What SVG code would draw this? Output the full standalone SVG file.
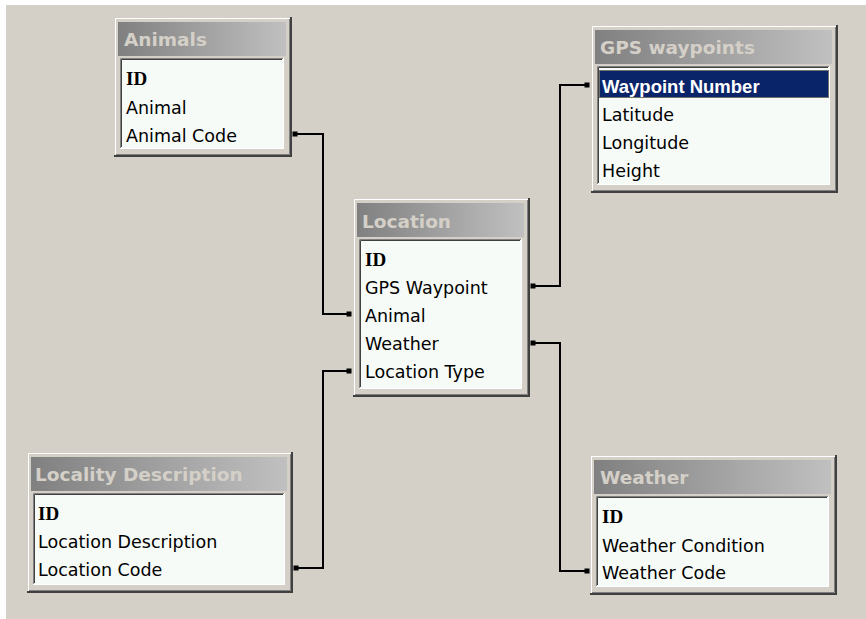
<svg xmlns="http://www.w3.org/2000/svg" width="866" height="619" viewBox="0 0 866 619">
<defs>
<linearGradient id="cap" x1="0" y1="0" x2="1" y2="0">
<stop offset="0" stop-color="#808080"/>
<stop offset="1" stop-color="#c0c0c0"/>
</linearGradient>
<style>
.face{fill:#d4d0c8}
.hi{fill:none;stroke:#ffffff;stroke-width:1}
.sh1{fill:none;stroke:#404040;stroke-width:2}
.sh2{fill:none;stroke:#808080;stroke-width:1}
.cap{fill:url(#cap)}
.tt{font-family:"DejaVu Sans",Verdana,sans-serif;font-weight:bold;font-size:18.5px;fill:#d4d0c8}
.list{fill:#f6fbf7}
.sk1{fill:none;stroke:#808080;stroke-width:1}
.sk2{fill:none;stroke:#404040;stroke-width:1}
.sk3{fill:none;stroke:#ffffff;stroke-width:1}
.row{font-family:"DejaVu Sans",Verdana,sans-serif;font-size:17.5px;fill:#000000}
.key{font-family:"Liberation Serif","Times New Roman",serif;font-weight:bold;font-size:19px;fill:#000000}
.sel{fill:#0a246a}
.focus{fill:none;stroke:#d8c070;stroke-width:1;stroke-dasharray:1 1}
.selt{font-family:"Liberation Sans",Arial,sans-serif;font-weight:bold;font-size:18.5px;fill:#ffffff}
.conn{fill:none;stroke:#000000;stroke-width:2}
.dot{fill:#000000}
</style>
</defs>
<rect width="866" height="619" fill="#ffffff"/>
<rect x="6" y="5" width="860" height="614" fill="#d4d0c8"/>

<g id="connectors">
<path class="conn" d="M295,134 H323 V314 H349"/>
<rect class="dot" x="292.5" y="131.5" width="5" height="5"/>
<rect class="dot" x="346.5" y="311.5" width="5" height="5"/>
<path class="conn" d="M349,371 H323 V568 H296"/>
<rect class="dot" x="346.5" y="368.5" width="5" height="5"/>
<rect class="dot" x="293.5" y="565.5" width="5" height="5"/>
<path class="conn" d="M533,286 H560 V85 H587"/>
<rect class="dot" x="530.5" y="283.5" width="5" height="5"/>
<rect class="dot" x="584.5" y="82.5" width="5" height="5"/>
<path class="conn" d="M533,343 H560 V571 H587"/>
<rect class="dot" x="530.5" y="340.5" width="5" height="5"/>
<rect class="dot" x="584.5" y="568.5" width="5" height="5"/>
</g>

<g id="animals" transform="translate(114,17)">
<rect class="face" width="178" height="140"/>
<path class="hi" d="M1.5,138 V1.5 H176"/>
<path class="sh1" d="M177,0 V139 H0"/>
<path class="sh2" d="M175.5,2 V137.5 H2"/>
<rect class="cap" x="4" y="5" width="168" height="34"/>
<text class="tt" x="10" y="29">Animals</text>
<rect class="list" x="6" y="41" width="164" height="91"/>
<path class="sk3" d="M6,131.5 H169.5 V41"/>
<path class="sk1" d="M6.5,131 V41.5 H169"/>
<path class="sk2" d="M7.5,130 V42.5 H168"/>
<text class="key" x="12" y="68">ID</text>
<text class="row" x="12" y="97">Animal</text>
<text class="row" x="12" y="125">Animal Code</text>
</g>

<g id="gps-waypoints" transform="translate(591,25)">
<rect class="face" width="247" height="168"/>
<path class="hi" d="M1.5,166 V1.5 H245"/>
<path class="sh1" d="M246,0 V167 H0"/>
<path class="sh2" d="M244.5,2 V165.5 H2"/>
<rect class="cap" x="4" y="5" width="237" height="34"/>
<text class="tt" x="9" y="29">GPS waypoints</text>
<rect class="list" x="6" y="41" width="233" height="119"/>
<path class="sk3" d="M6,159.5 H238.5 V41"/>
<path class="sk1" d="M6.5,159 V41.5 H238"/>
<path class="sk2" d="M7.5,158 V42.5 H237"/>
<rect class="sel" x="8" y="45" width="230" height="28"/>
<rect class="focus" x="8.5" y="45.5" width="229" height="27"/>
<text class="selt" x="11" y="68">Waypoint Number</text>
<text class="row" x="11" y="96">Latitude</text>
<text class="row" x="11" y="124">Longitude</text>
<text class="row" x="11" y="152">Height</text>
</g>

<g id="location" transform="translate(353,198)">
<rect class="face" width="177" height="199"/>
<path class="hi" d="M1.5,197 V1.5 H175"/>
<path class="sh1" d="M176,0 V198 H0"/>
<path class="sh2" d="M174.5,2 V196.5 H2"/>
<rect class="cap" x="4" y="5" width="167" height="34"/>
<text class="tt" x="9" y="30">Location</text>
<rect class="list" x="6" y="41" width="163" height="150"/>
<path class="sk3" d="M6,190.5 H168.5 V41"/>
<path class="sk1" d="M6.5,190 V41.5 H168"/>
<path class="sk2" d="M7.5,189 V42.5 H167"/>
<text class="key" x="12" y="68">ID</text>
<text class="row" x="12" y="96">GPS Waypoint</text>
<text class="row" x="12" y="124">Animal</text>
<text class="row" x="12" y="152">Weather</text>
<text class="row" x="12" y="180">Location Type</text>
</g>

<g id="locality-description" transform="translate(27,452)">
<rect class="face" width="266" height="141"/>
<path class="hi" d="M1.5,139 V1.5 H264"/>
<path class="sh1" d="M265,0 V140 H0"/>
<path class="sh2" d="M263.5,2 V138.5 H2"/>
<rect class="cap" x="4" y="5" width="256" height="34"/>
<text class="tt" x="8" y="29">Locality Description</text>
<rect class="list" x="6" y="41" width="252" height="92"/>
<path class="sk3" d="M6,132.5 H257.5 V41"/>
<path class="sk1" d="M6.5,132 V41.5 H257"/>
<path class="sk2" d="M7.5,131 V42.5 H256"/>
<text class="key" x="11" y="68">ID</text>
<text class="row" x="11" y="96">Location Description</text>
<text class="row" x="11" y="124">Location Code</text>
</g>

<g id="weather" transform="translate(590,455)">
<rect class="face" width="247" height="140"/>
<path class="hi" d="M1.5,138 V1.5 H245"/>
<path class="sh1" d="M246,0 V139 H0"/>
<path class="sh2" d="M244.5,2 V137.5 H2"/>
<rect class="cap" x="4" y="5" width="237" height="34"/>
<text class="tt" x="10" y="29">Weather</text>
<rect class="list" x="6" y="41" width="233" height="91"/>
<path class="sk3" d="M6,131.5 H238.5 V41"/>
<path class="sk1" d="M6.5,131 V41.5 H238"/>
<path class="sk2" d="M7.5,130 V42.5 H237"/>
<text class="key" x="12" y="68">ID</text>
<text class="row" x="12" y="97">Weather Condition</text>
<text class="row" x="12" y="124">Weather Code</text>
</g>
</svg>
